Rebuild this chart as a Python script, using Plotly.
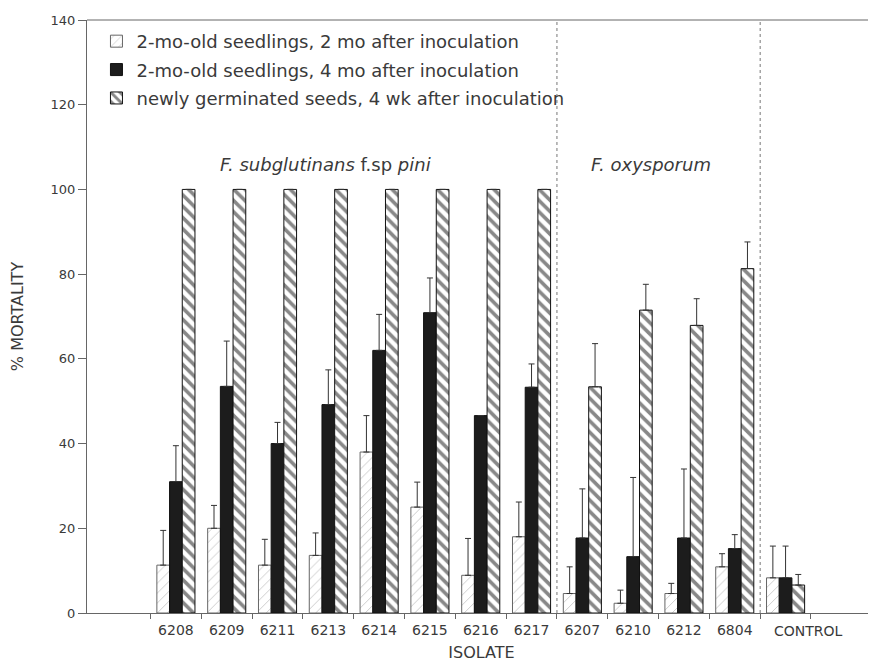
import plotly.graph_objects as go

isolates = ["6208", "6209", "6211", "6213", "6214", "6215", "6216", "6217",
            "6207", "6210", "6212", "6804", "CONTROL"]

s1_name = "2-mo-old seedlings, 2 mo after inoculation"
s1_vals = [11.3, 20.0, 11.3, 13.6, 38.0, 25.0, 8.9, 18.0, 4.6, 2.3, 4.6, 10.9, 8.3]
s1_err = [8.2, 5.4, 6.1, 5.3, 8.6, 5.9, 8.7, 8.2, 6.3, 3.1, 2.4, 3.1, 7.5]

s2_name = "2-mo-old seedlings, 4 mo after inoculation"
s2_vals = [31.0, 53.5, 40.0, 49.2, 62.0, 70.9, 46.6, 53.3, 17.7, 13.3, 17.7, 15.2, 8.3]
s2_err = [8.5, 10.7, 5.0, 8.2, 8.5, 8.2, 0.0, 5.5, 11.6, 18.7, 16.3, 3.3, 7.5]

s3_name = "newly germinated seeds, 4 wk after inoculation"
s3_vals = [100, 100, 100, 100, 100, 100, 100, 100, 53.4, 71.5, 67.9, 81.3, 6.6]
s3_err = [0, 0, 0, 0, 0, 0, 0, 0, 10.2, 6.1, 6.3, 6.3, 2.5]

y_ticks = [0, 20, 40, 60, 80, 100, 120, 140]

FONT = "DejaVu Sans"
TXT = "#3a3a3a"
AX = "#666666"

def err(arr):
    return dict(type="data", array=arr, arrayminus=[0] * len(arr), symmetric=False,
                color="#333333", thickness=1, width=3)

fig = go.Figure()
fig.add_trace(go.Bar(
    name=s1_name, x=isolates, y=s1_vals, error_y=err(s1_err), legendgroup="a",
    marker=dict(color="white", line=dict(color="#666666", width=1),
                pattern=dict(shape="/", fgcolor="#888888", bgcolor="white", size=7, solidity=0.12)),
))
fig.add_trace(go.Bar(
    name=s2_name, x=isolates, y=s2_vals, error_y=err(s2_err), legendgroup="b",
    marker=dict(color="#1c1c1c", line=dict(color="#111111", width=1)),
))
fig.add_trace(go.Bar(
    name=s3_name, x=isolates, y=s3_vals, error_y=err(s3_err), legendgroup="c",
    marker=dict(color="white", line=dict(color="#111111", width=1),
                pattern=dict(shape="\\", fgcolor="#111111", bgcolor="white", size=8, solidity=0.45)),
))

# the last category label sits to the right of its group in the original
tick_text = isolates[:-1] + [""]

fig.update_layout(
    width=876, height=665,
    margin=dict(l=79, r=8, t=12, b=60),
    paper_bgcolor="white", plot_bgcolor="white",
    barmode="group", bargap=0.25, bargroupgap=0,
    font=dict(family=FONT, color=TXT, size=12),
    showlegend=True,
    legend=dict(x=0.012, y=0.995, xanchor="left", yanchor="top",
                font=dict(size=18, color=TXT, family=FONT),
                bgcolor="rgba(0,0,0,0)", tracegroupgap=2, itemwidth=30,
                traceorder="grouped"),
    xaxis=dict(type="category", range=[-1.75, 13.78], showgrid=False, automargin=False,
               showline=True, linecolor=AX, linewidth=1, tickangle=0,
               tickvals=isolates, ticktext=tick_text,
               ticks="outside", tickson="boundaries", ticklen=5, tickcolor=AX,
               ticklabelstandoff=4,
               tickfont=dict(size=14, color=TXT),
               title=dict(text="ISOLATE", font=dict(size=16, color=TXT), standoff=10)),
    yaxis=dict(range=[0, 140], tickvals=y_ticks, showgrid=False, zeroline=False,
               automargin=False,
               showline=True, linecolor=AX, linewidth=1, mirror=False,
               ticks="outside", ticklen=8, tickcolor=AX,
               tickfont=dict(size=13, color=TXT),
               title=dict(text="% MORTALITY", font=dict(size=16, color=TXT), standoff=24)),
)

fig.add_annotation(text=isolates[-1], x=12.45, xref="x", y=0, yref="paper",
                   yanchor="top", yshift=-8, showarrow=False,
                   font=dict(size=14, color=TXT))

# top frame line
fig.add_shape(type="line", xref="paper", yref="paper", x0=0, x1=1, y0=1, y1=1,
              line=dict(color=AX, width=1))
# group separators
for xs in [7.5, 11.5]:
    fig.add_shape(type="line", xref="x", yref="paper", x0=xs, x1=xs, y0=0, y1=1,
                  line=dict(color="#777777", width=1, dash="dot"))

fig.add_annotation(text="<i>F. subglutinans</i> f.sp <i>pini</i>", x=2.95, y=106,
                   xref="x", yref="y", showarrow=False, font=dict(size=18, color=TXT))
fig.add_annotation(text="<i>F. oxysporum</i>", x=9.35, y=105.8,
                   xref="x", yref="y", showarrow=False, font=dict(size=18, color=TXT))

fig.write_html("out.html")
